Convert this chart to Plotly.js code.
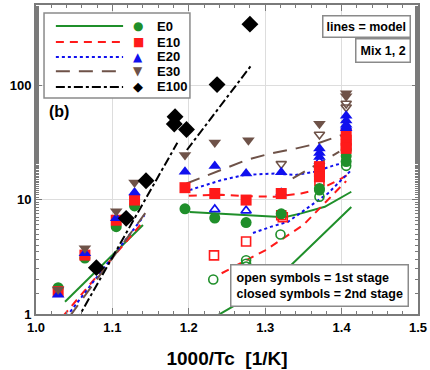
<!DOCTYPE html>
<html>
<head>
<meta charset="utf-8">
<script src="https://cdn.plot.ly/plotly-3.0.1.min.js"></script>
<style>html,body{margin:0;padding:0;background:#fff;}#chart{width:430px;height:370px;}</style>
</head>
<body>
<div id="chart"></div>
<script>
// ---- data: closed symbols = 2nd stage, open symbols = 1st stage ----
const e0ClosedX  = [1.029, 1.064, 1.105, 1.129, 1.195, 1.234, 1.275, 1.321, 1.371, 1.371, 1.406, 1.406, 1.406];
const e0ClosedY  = [1.70, 3.08, 5.8, 8.8, 8.3, 6.9, 6.3, 7.5, 12.5, 12.1, 27.0, 24.0, 21.5];
const e0OpenX    = [1.232, 1.275, 1.275, 1.275, 1.320, 1.371, 1.406];
const e0OpenY    = [2.0, 2.95, 2.75, 2.6, 4.95, 10.6, 19.7];

const e10ClosedX = [1.029, 1.064, 1.105, 1.129, 1.195, 1.234, 1.275, 1.321, 1.371, 1.371, 1.371, 1.406, 1.406, 1.406, 1.406];
const e10ClosedY = [1.57, 3.27, 6.6, 9.9, 12.7, 11.3, 9.9, 11.3, 19.4, 17.5, 15.8, 37, 33, 30, 28];
const e10OpenX   = [1.233, 1.275, 1.321, 1.323, 1.371];
const e10OpenY   = [3.25, 4.3, 7.3, 7.0, 14.6];

const e20ClosedX = [1.029, 1.064, 1.105, 1.129, 1.195, 1.234, 1.275, 1.321, 1.371, 1.371, 1.371, 1.406, 1.406, 1.406, 1.406];
const e20ClosedY = [1.47, 3.39, 6.85, 11.5, 17.5, 19.6, 16.9, 17.3, 28, 25.5, 23.6, 54, 49, 45, 42];
const e20OpenX   = [1.234, 1.275, 1.321, 1.371, 1.406];
const e20OpenY   = [8.2, 8.0, 11.4, 21.4, 43];

const e30ClosedX = [1.029, 1.064, 1.105, 1.129, 1.195, 1.234, 1.278, 1.371, 1.406, 1.406];
const e30ClosedY = [1.64, 3.75, 7.9, 14.1, 24.5, 31.5, 33, 46, 85, 80];
const e30OpenX   = [1.321, 1.371, 1.406, 1.406];
const e30OpenY   = [20.5, 37, 69, 64];

const e100X      = [1.079, 1.118, 1.144, 1.181, 1.182, 1.197, 1.237, 1.280];
const e100Y      = [2.54, 6.85, 14.6, 45.7, 52.9, 41, 101, 341];

// ---- model lines ----
const m0LeftX   = [1.038, 1.140];            const m0LeftY   = [1.28, 6.0];
const m10LeftX  = [1.035, 1.140];            const m10LeftY  = [0.95, 6.4];
const m20LeftX  = [1.040, 1.142];            const m20LeftY  = [0.95, 7.3];
const m30LeftX  = [1.044, 1.143];            const m30LeftY  = [0.95, 7.6];
const m100LeftX = [1.052, 1.185];            const m100LeftY = [0.85, 31.3];

const m0UpX  = [1.201, 1.234, 1.273, 1.3255, 1.347, 1.378, 1.4127];
const m0UpY  = [7.8, 7.6, 7.4, 7.0, 7.57, 8.65, 11.7];
const m0LowX = [1.235, 1.29, 1.332, 1.4127];
const m0LowY = [0.95, 1.55, 2.6, 8.6];

const m10UpX  = [1.200, 1.243, 1.273, 1.312, 1.347, 1.374, 1.400, 1.408];
const m10UpY  = [10.8, 11.0, 10.7, 10.6, 11.3, 12.5, 15.3, 16.5];
const m10LowX = [1.243, 1.300, 1.350, 1.406];
const m10LowY = [2.27, 3.6, 6.0, 14.5];

const m20UpX  = [1.201, 1.243, 1.273, 1.312, 1.339, 1.365, 1.391, 1.405];
const m20UpY  = [12.1, 14.8, 16.4, 16.9, 16.4, 17.5, 20, 21];
const m20LowX = [1.284, 1.308, 1.330, 1.352, 1.382, 1.4127];
const m20LowY = [5.1, 5.8, 6.4, 8.1, 11.3, 18.1];

const m30UpX  = [1.197, 1.230, 1.275, 1.306, 1.341, 1.369, 1.400];
const m30UpY  = [13.8, 16.9, 22.1, 25.2, 28, 31, 36.6];
const m30LowX = [1.336, 1.397];
const m30LowY = [15.3, 26.2];

const m100RightX = [1.1975, 1.281];
const m100RightY = [27.1, 146.6];

const xTickVals = [1.0, 1.1, 1.2, 1.3, 1.4, 1.5];
const yTickVals = [1, 10, 100];
const yTickText = ['1', '10', '100'];
const legendNames = ['E0', 'E10', 'E20', 'E30', 'E100'];

// ---- styles ----
const GREEN = '#1f8f2a', RED = '#ff1a1a', BLUE = '#1010ee', BROWN = '#6e5248', BLACK = '#000000';
const colors = [GREEN, RED, BLUE, BROWN, BLACK];
const dashes = ['solid', '8px,6px', 'dot', '14px,9px', 'dashdot'];
const closedSym = ['circle', 'square', 'triangle-up', 'triangle-down', 'diamond'];
const openSym = ['circle-open', 'square-open', 'triangle-up-open', 'triangle-down-open'];
const glyphs = ['\u25CF', '\u25A0', '\u25B2', '\u25BC', '\u25C6'];

function line(x, y, i) {
  return {x: x, y: y, type: 'scatter', mode: 'lines', showlegend: false, hoverinfo: 'skip',
    line: {color: colors[i], width: 2, dash: dashes[i]}};
}
function pts(x, y, i, open) {
  return {x: x, y: y, type: 'scatter', mode: 'markers', showlegend: false,
    marker: open ? {symbol: openSym[i], size: 9, color: colors[i], line: {color: colors[i], width: 1.6}}
                 : {symbol: closedSym[i], size: i === 4 ? 13 : 11, color: colors[i], line: {width: 0}}};
}

const traces = [
  line(m0LeftX, m0LeftY, 0), line(m10LeftX, m10LeftY, 1), line(m20LeftX, m20LeftY, 2),
  line(m30LeftX, m30LeftY, 3), line(m100LeftX, m100LeftY, 4),
  line(m0UpX, m0UpY, 0), line(m0LowX, m0LowY, 0),
  line(m10UpX, m10UpY, 1), line(m10LowX, m10LowY, 1),
  line(m20UpX, m20UpY, 2), line(m20LowX, m20LowY, 2),
  line(m30UpX, m30UpY, 3), line(m30LowX, m30LowY, 3),
  line(m100RightX, m100RightY, 4),
  pts(e0OpenX, e0OpenY, 0, true), pts(e10OpenX, e10OpenY, 1, true),
  pts(e20OpenX, e20OpenY, 2, true), pts(e30OpenX, e30OpenY, 3, true),
  pts(e0ClosedX, e0ClosedY, 0, false), pts(e10ClosedX, e10ClosedY, 1, false),
  pts(e20ClosedX, e20ClosedY, 2, false), pts(e30ClosedX, e30ClosedY, 3, false),
  pts(e100X, e100Y, 4, false)
];

// ---- manual legend (paper coordinates) ----
const FONT = 'Liberation Sans, Arial, sans-serif';
const rowY = [0.932, 0.880, 0.832, 0.786, 0.735];
const shapes = [{type: 'rect', xref: 'paper', yref: 'paper', x0: 0.021, x1: 0.403, y0: 0.699, y1: 0.974,
  line: {color: '#8a8a8a', width: 1.5}, fillcolor: '#ffffff', layer: 'above'}];
const annotations = [];
legendNames.forEach(function (name, i) {
  shapes.push({type: 'line', xref: 'paper', yref: 'paper', x0: 0.052, x1: 0.228, y0: rowY[i], y1: rowY[i],
    line: {color: colors[i], width: 2, dash: dashes[i]}, layer: 'above'});
  annotations.push({xref: 'paper', yref: 'paper', x: 0.268, y: rowY[i], text: glyphs[i], showarrow: false,
    xanchor: 'center', yanchor: 'middle', font: {family: 'DejaVu Sans', size: i === 4 ? 13 : 12, color: colors[i]}});
  annotations.push({xref: 'paper', yref: 'paper', x: 0.311, y: rowY[i], text: '<b>' + name + '</b>', showarrow: false,
    xanchor: 'left', yanchor: 'middle', font: {family: FONT, size: 13, color: '#000'}});
});
annotations.push({xref: 'paper', yref: 'paper', x: 0.030, y: 0.655, text: '<b>(b)</b>', showarrow: false,
  xanchor: 'left', yanchor: 'middle', font: {family: FONT, size: 16, color: '#000'}});
annotations.push({xref: 'paper', yref: 'paper', x: 0.982, y: 0.968, text: '<b>lines = model</b>', showarrow: false,
  xanchor: 'right', yanchor: 'top', bgcolor: '#fff', bordercolor: '#8a8a8a', borderwidth: 1.5, borderpad: 3,
  font: {family: FONT, size: 12.5, color: '#000'}});
annotations.push({xref: 'paper', yref: 'paper', x: 0.982, y: 0.893, text: '<b>Mix 1, 2</b>', showarrow: false,
  xanchor: 'right', yanchor: 'top', bgcolor: '#fff', bordercolor: '#8a8a8a', borderwidth: 1.5, borderpad: 4,
  font: {family: FONT, size: 12.5, color: '#000'}});
annotations.push({xref: 'paper', yref: 'paper', x: 0.508, y: 0.023,
  text: '<b>open symbols = 1st stage<br>closed symbols = 2nd stage</b>', showarrow: false, align: 'left',
  xanchor: 'left', yanchor: 'bottom', bgcolor: '#fff', bordercolor: '#8a8a8a', borderwidth: 1.5, borderpad: 5,
  font: {family: FONT, size: 12.5, color: '#000'}});

const axisCommon = {
  showline: true, linecolor: '#7a7a7a', linewidth: 2, mirror: 'allticks',
  ticks: 'inside', tickcolor: '#7a7a7a', tickwidth: 1, ticklen: 6,
  showgrid: true, gridcolor: '#dddddd', gridwidth: 1, zeroline: false,
  tickfont: {family: FONT, size: 13, color: '#000', weight: 'bold'}
};

const layout = {
  width: 430, height: 370,
  margin: {l: 36, r: 12, t: 5, b: 56},
  paper_bgcolor: '#fff', plot_bgcolor: '#fff',
  showlegend: false,
  xaxis: Object.assign({}, axisCommon, {
    range: [1.0, 1.5], tickvals: xTickVals, tickformat: '.1f',
    minor: {dtick: 0.02, ticks: 'inside', ticklen: 3, tickcolor: '#7a7a7a', showgrid: false},
    title: {text: '<b>1000/Tc  [1/K]</b>', font: {family: FONT, size: 19, color: '#000'}, standoff: 18}
  }),
  yaxis: Object.assign({}, axisCommon, {
    type: 'log', range: [0, 2.7], tickvals: yTickVals, ticktext: yTickText,
    minor: {ticks: 'inside', ticklen: 3, tickcolor: '#7a7a7a', showgrid: false}
  }),
  shapes: shapes,
  annotations: annotations
};

Plotly.newPlot('chart', traces, layout, {staticPlot: true, displayModeBar: false});
</script>
</body>
</html>
